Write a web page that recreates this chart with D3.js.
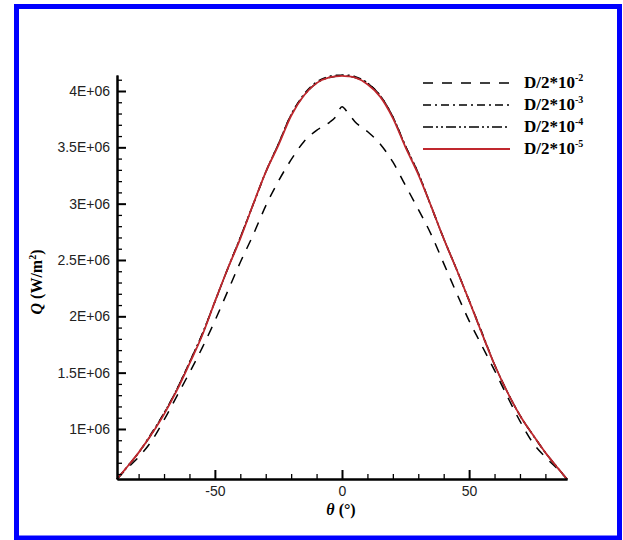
<!DOCTYPE html>
<html>
<head>
<meta charset="utf-8">
<script src="https://cdn.jsdelivr.net/npm/d3@7"></script>
<style>
  body { margin: 0; background: #fff; }
  .tick text { font-family: "Liberation Sans", Arial, sans-serif; font-size: 14px; fill: #222; }
  .ttl { font-family: "Liberation Serif", "Times New Roman", serif; font-weight: bold; fill: #000; }
</style>
</head>
<body>
<div id="chart"></div>
<script>
// angle (deg) and heat flux Q (x1E+06 W/m2)
var theta = [-88.5, -85, -80, -75, -70, -65, -60, -55, -50, -45, -40, -35, -30, -25, -20, -15, -10, -5, -2.5,
             0, 2.5, 5, 10, 15, 20, 25, 30, 35, 40, 45, 50, 55, 60, 65, 70, 75, 80, 85, 88.5];
var q_e2 = [0.555, 0.64, 0.75, 0.89, 1.08, 1.29, 1.50, 1.72, 1.96, 2.22, 2.48, 2.72, 2.98, 3.20, 3.39, 3.55, 3.65, 3.72, 3.77,
            3.86, 3.80, 3.73, 3.64, 3.53, 3.37, 3.16, 2.95, 2.73, 2.47, 2.21, 1.96, 1.74, 1.52, 1.29, 1.07, 0.88, 0.75, 0.64, 0.555];
var q_e3 = [0.555, 0.65, 0.79, 0.96, 1.14, 1.35, 1.59, 1.84, 2.13, 2.42, 2.70, 2.99, 3.28, 3.53, 3.79, 3.97, 4.08, 4.13, 4.14,
            4.14, 4.14, 4.13, 4.07, 3.96, 3.77, 3.51, 3.27, 2.98, 2.69, 2.42, 2.14, 1.86, 1.57, 1.33, 1.12, 0.95, 0.79, 0.65, 0.555];
var q_e4 = [0.555, 0.65, 0.79, 0.95, 1.14, 1.35, 1.59, 1.84, 2.13, 2.42, 2.70, 2.99, 3.28, 3.53, 3.79, 3.96, 4.07, 4.12, 4.13,
            4.14, 4.13, 4.12, 4.07, 3.96, 3.77, 3.51, 3.27, 2.98, 2.69, 2.42, 2.14, 1.85, 1.57, 1.33, 1.12, 0.95, 0.79, 0.65, 0.555];
var q_e5 = [0.555, 0.65, 0.79, 0.95, 1.13, 1.34, 1.58, 1.83, 2.13, 2.42, 2.69, 2.99, 3.28, 3.52, 3.78, 3.96, 4.07, 4.12, 4.13,
            4.135, 4.13, 4.12, 4.06, 3.95, 3.76, 3.50, 3.26, 2.98, 2.69, 2.42, 2.14, 1.85, 1.57, 1.33, 1.12, 0.95, 0.79, 0.65, 0.555];
var seriesNames = ["-2", "-3", "-4", "-5"];
var xTicks = [-50, 0, 50];
var xTickLabels = ["-50", "0", "50"];
var yTicks = [1e6, 1.5e6, 2e6, 2.5e6, 3e6, 3.5e6, 4e6];
var yTickLabels = ["1E+06", "1.5E+06", "2E+06", "2.5E+06", "3E+06", "3.5E+06", "4E+06"];

var W = 623, H = 540;
var svg = d3.select("#chart").append("svg").attr("width", W).attr("height", H);

// blue frame
svg.append("rect").attr("x", 16.5).attr("y", 6.5).attr("width", 603).attr("height", 531.5)
  .attr("fill", "#fff").attr("stroke", "#0000ff").attr("stroke-width", 5);

var x = d3.scaleLinear().domain([-88.5, 88.5]).range([117, 567]);
var y = d3.scaleLinear().domain([0.556e6, 4.142e6]).range([479, 75]);

var styles = [
  {color: "#000", dash: "10,9", w: 1.5},
  {color: "#000", dash: "8,4,2,4", w: 1.5},
  {color: "#000", dash: "10,3,2,3,2,3", w: 1.5},
  {color: "#c0282e", dash: null, w: 1.8}
];
var allQ = [q_e2, q_e3, q_e4, q_e5];

var line = d3.line().x(d => x(d[0])).y(d => y(d[1] * 1e6)).curve(d3.curveMonotoneX);

allQ.forEach(function(qs, i){
  svg.append("path")
    .datum(theta.map((t, k) => [t, qs[k]]))
    .attr("d", line)
    .attr("fill", "none")
    .attr("stroke", styles[i].color)
    .attr("stroke-width", styles[i].w)
    .attr("stroke-dasharray", styles[i].dash);
});

// axes
var minorX = d3.range(-80, 81, 10).filter(v => xTicks.indexOf(v) < 0);
var minorY = d3.range(6, 42).map(v => v * 1e5).filter(v => yTicks.indexOf(Math.round(v)) < 0);

var gx = svg.append("g").attr("transform", "translate(0,479)");
gx.call(d3.axisBottom(x).tickValues(minorX).tickSize(-5).tickSizeOuter(0).tickFormat(""));
var gx2 = svg.append("g").attr("transform", "translate(0,479)");
gx2.call(d3.axisBottom(x).tickValues(xTicks).tickSize(-9).tickSizeOuter(0).tickPadding(7)
  .tickFormat((d, i) => xTickLabels[i]));

var gy = svg.append("g").attr("transform", "translate(117,0)");
gy.call(d3.axisLeft(y).tickValues(minorY).tickSize(-5).tickSizeOuter(0).tickFormat(""));
var gy2 = svg.append("g").attr("transform", "translate(117,0)");
gy2.call(d3.axisLeft(y).tickValues(yTicks).tickSize(-9).tickSizeOuter(0).tickPadding(7)
  .tickFormat((d, i) => yTickLabels[i]));

svg.selectAll(".domain").attr("stroke", "#000").attr("stroke-width", 2);
svg.selectAll(".tick line").attr("stroke", "#000").attr("stroke-width", 1.3);
gx2.selectAll(".tick line").attr("stroke-width", 2);
gy2.selectAll(".tick line").attr("stroke-width", 2);

// axis titles
var xt = svg.append("text").attr("class", "ttl").attr("x", 341).attr("y", 515)
  .attr("text-anchor", "middle").style("font-size", "16px");
xt.append("tspan").style("font-style", "italic").text("θ");
xt.append("tspan").text(" (°)");

var yt = svg.append("text").attr("class", "ttl")
  .attr("transform", "translate(42,282) rotate(-90)")
  .attr("text-anchor", "middle").style("font-size", "16px");
yt.append("tspan").style("font-style", "italic").text("Q");
yt.append("tspan").text(" (W/m");
yt.append("tspan").attr("dy", -6).style("font-size", "10px").text("2");
yt.append("tspan").attr("dy", 6).text(")");

// legend
seriesNames.forEach(function(s, i){
  var ly = 83 + i * 22;
  svg.append("line").attr("x1", 423).attr("x2", 510).attr("y1", ly).attr("y2", ly)
    .attr("stroke", styles[i].color).attr("stroke-width", styles[i].w)
    .attr("stroke-dasharray", styles[i].dash);
  var t = svg.append("text").attr("class", "ttl").attr("x", 524).attr("y", ly + 5)
    .style("font-size", "17px");
  t.append("tspan").text("D/2*10");
  t.append("tspan").attr("dy", -7).style("font-size", "10px").text(s);
});
</script>
</body>
</html>
